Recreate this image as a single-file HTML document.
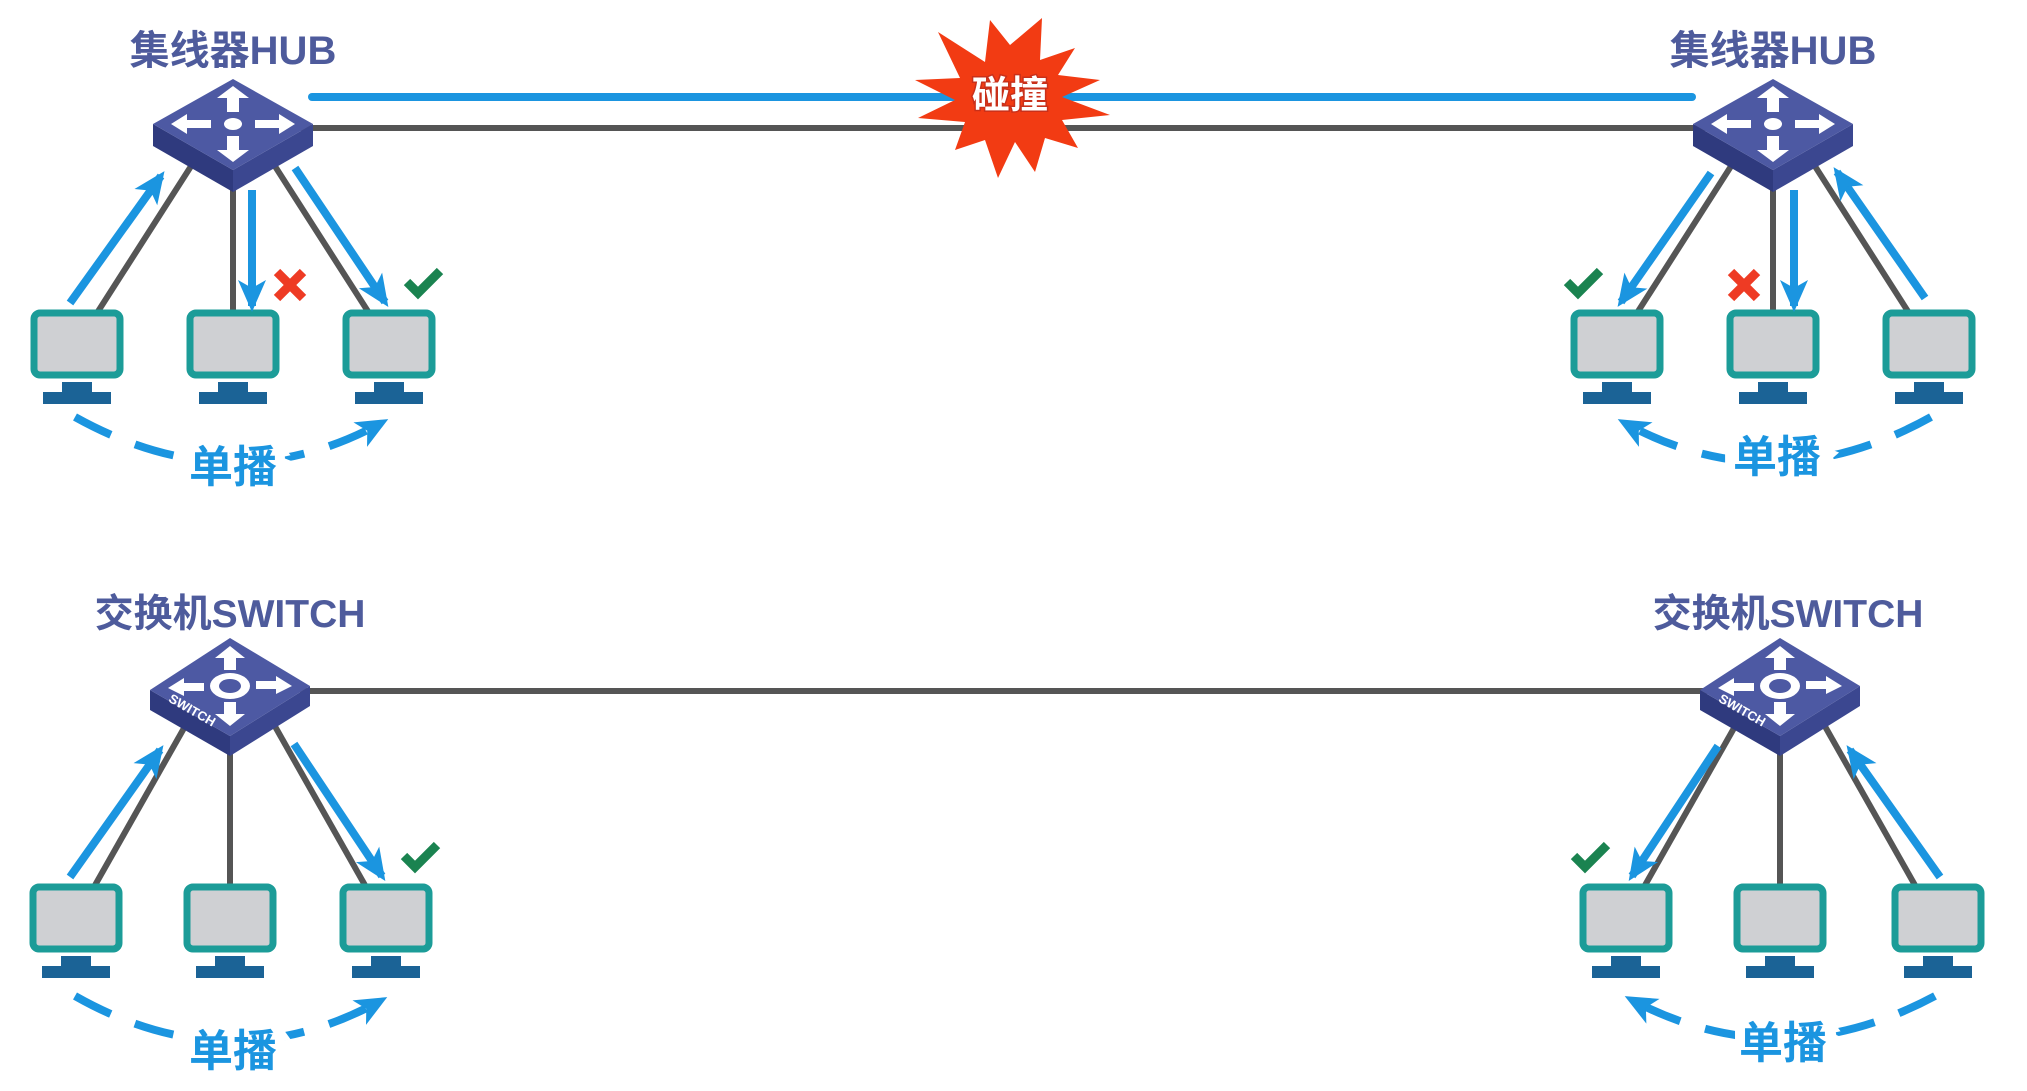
<!DOCTYPE html>
<html><head><meta charset="utf-8"><style>
html,body{margin:0;padding:0;background:#fff;}
svg{display:block;}
text{font-family:"Liberation Sans","Noto Sans CJK SC",sans-serif;font-weight:bold;}
</style></head><body>
<svg width="2027" height="1091" viewBox="0 0 2027 1091" xmlns="http://www.w3.org/2000/svg">
<defs>
  <marker id="ah" markerUnits="userSpaceOnUse" markerWidth="34" markerHeight="34" viewBox="0 0 34 34" refX="26" refY="17" orient="auto">
    <path d="M0,3 L32,17 L0,31 L8,17 Z" fill="#1b95e0"/>
  </marker>
  <g id="pc">
    <rect x="-43" y="3" width="86" height="62" rx="6" fill="#cfd0d3" stroke="#1c9c98" stroke-width="7"/>
    <rect x="-15" y="72" width="30" height="11" fill="#1b6396"/>
    <rect x="-34" y="82" width="68" height="12" fill="#1b6396"/>
  </g>
  <g id="hub">
    <polygon points="-80,0 0,46 0,68 -80,22" fill="#2f3a7e"/>
    <polygon points="80,0 0,46 0,68 80,22" fill="#3b4790"/>
    <polygon points="0,-45 80,0 0,46 -80,0" fill="#4d59a3"/>
    <g fill="#fff">
      <polygon points="0,-38 -16,-26 -6,-26 -6,-12 6,-12 6,-26 16,-26"/>
      <polygon points="0,38 -16,26 -6,26 -6,12 6,12 6,26 16,26"/>
      <polygon points="-62,0 -46,-10 -46,-4 -22,-4 -22,4 -46,4 -46,10"/>
      <polygon points="62,0 46,-10 46,-4 22,-4 22,4 46,4 46,10"/>
      <ellipse cx="0" cy="0" rx="9" ry="6"/>
    </g>
  </g>
  <g id="sw">
    <polygon points="-80,4 0,50 0,70 -80,24" fill="#2f3a7e"/>
    <polygon points="80,0 0,50 0,70 80,20" fill="#3b4790"/>
    <polygon points="0,-48 80,0 0,50 -80,4" fill="#4d59a3"/>
    <g fill="#fff">
      <polygon points="0,-40 -15,-28 -6,-28 -6,-16 6,-16 6,-28 15,-28"/>
      <polygon points="0,40 -15,28 -6,28 -6,16 6,16 6,28 15,28"/>
      <polygon points="-62,2 -46,-8 -46,-3 -26,-3 -26,5 -46,5 -46,10"/>
      <polygon points="62,0 46,-10 46,-5 26,-5 26,3 46,3 46,8"/>
      <ellipse cx="0" cy="0" rx="20" ry="13"/>
    </g>
    <ellipse cx="0" cy="0" rx="11" ry="7" fill="#4d59a3"/>
    <text x="0" y="0" font-size="13" fill="#fff" transform="translate(-40,28) rotate(30)" text-anchor="middle">SWITCH</text>
  </g>
  <path id="chk" d="M-16,0 L-5,11 L17,-11" fill="none" stroke="#1a8350" stroke-width="9"/>
  <g id="xx" stroke="#ee3b24" stroke-width="9"><path d="M-13,-13 L13,13 M13,-13 L-13,13"/></g>
</defs>

<line x1="312" y1="97" x2="1692" y2="97" stroke="#1b95e0" stroke-width="8" stroke-linecap="round"/>
<line x1="300" y1="128" x2="1720" y2="128" stroke="#555" stroke-width="6"/>
<line x1="300" y1="691" x2="1730" y2="691" stroke="#555" stroke-width="6"/>

<polygon fill="#f23b13" points="1010,45 1042,18 1040,60 1075,48 1058,75 1100,80 1062,97 1110,115 1062,120 1078,148 1045,138 1035,172 1015,142 998,178 985,140 955,150 965,122 918,118 955,100 915,80 960,78 938,32 985,62 990,20"/>
<text x="1010" y="108" font-size="38" text-anchor="middle" fill="#fff" stroke="#c9301a" stroke-width="3" paint-order="stroke">碰撞</text>

<!-- TOP LEFT -->
<g transform="translate(233,0)">
  <text x="0" y="64" font-size="40" fill="#4e5b9c" text-anchor="middle">集线器HUB</text>
  <g stroke="#555" stroke-width="6">
    <line x1="-38" y1="160" x2="-136" y2="313"/>
    <line x1="0" y1="180" x2="0" y2="313"/>
    <line x1="38" y1="160" x2="136" y2="313"/>
  </g>
  <use href="#hub" transform="translate(0,124)"/>
  <use href="#pc" transform="translate(-156,310)"/>
  <use href="#pc" transform="translate(0,310)"/>
  <use href="#pc" transform="translate(156,310)"/>
  <g stroke="#1b95e0" stroke-width="8" fill="none" marker-end="url(#ah)">
    <line x1="-163" y1="303" x2="-72" y2="176"/>
    <line x1="19" y1="190" x2="19" y2="306"/>
    <line x1="62" y1="168" x2="152" y2="302"/>
    <path d="M-158,417 Q0,505 150,422" stroke-dasharray="40 26"/>
  </g>
  <use href="#xx" transform="translate(57,285)"/>
  <use href="#chk" transform="translate(190,282)"/>
  <text x="0" y="482" font-size="44" fill="#1b95e0" text-anchor="middle" stroke="#fff" stroke-width="20" paint-order="stroke">单播</text>
</g>

<!-- TOP RIGHT -->
<g transform="translate(1773,0)">
  <text x="0" y="64" font-size="40" fill="#4e5b9c" text-anchor="middle">集线器HUB</text>
  <g stroke="#555" stroke-width="6">
    <line x1="-38" y1="160" x2="-136" y2="313"/>
    <line x1="0" y1="180" x2="0" y2="313"/>
    <line x1="38" y1="160" x2="136" y2="313"/>
  </g>
  <use href="#hub" transform="translate(0,124)"/>
  <use href="#pc" transform="translate(-156,310)"/>
  <use href="#pc" transform="translate(0,310)"/>
  <use href="#pc" transform="translate(156,310)"/>
  <g transform="scale(-1,1)" stroke="#1b95e0" stroke-width="8" fill="none" marker-end="url(#ah)">
    <line x1="-152" y1="298" x2="-64" y2="172"/>
    <line x1="62" y1="173" x2="152" y2="302"/>
    <path d="M-158,417 Q0,505 150,422" stroke-dasharray="40 26"/>
  </g>
  <line x1="21" y1="190" x2="21" y2="306" stroke="#1b95e0" stroke-width="8" marker-end="url(#ah)"/>
  <use href="#xx" transform="translate(-29,285)"/>
  <use href="#chk" transform="translate(-190,282)"/>
  <text x="4" y="472" font-size="44" fill="#1b95e0" text-anchor="middle" stroke="#fff" stroke-width="20" paint-order="stroke">单播</text>
</g>

<!-- BOTTOM LEFT -->
<g transform="translate(230,574)">
  <text x="0" y="53" font-size="39" fill="#4e5b9c" text-anchor="middle">交换机SWITCH</text>
  <g stroke="#555" stroke-width="6">
    <line x1="-38" y1="140" x2="-136" y2="313"/>
    <line x1="0" y1="170" x2="0" y2="313"/>
    <line x1="38" y1="140" x2="136" y2="313"/>
  </g>
  <use href="#sw" transform="translate(0,112)"/>
  <use href="#pc" transform="translate(-154,310)"/>
  <use href="#pc" transform="translate(0,310)"/>
  <use href="#pc" transform="translate(156,310)"/>
  <g stroke="#1b95e0" stroke-width="8" fill="none" marker-end="url(#ah)">
    <line x1="-160" y1="303" x2="-70" y2="176"/>
    <line x1="64" y1="170" x2="152" y2="302"/>
    <path d="M-155,422 Q0,510 152,426" stroke-dasharray="40 26"/>
  </g>
  <use href="#chk" transform="translate(190,282)"/>
  <text x="3" y="492" font-size="44" fill="#1b95e0" text-anchor="middle" stroke="#fff" stroke-width="20" paint-order="stroke">单播</text>
</g>

<!-- BOTTOM RIGHT -->
<g transform="translate(1780,574)">
  <text x="8" y="53" font-size="39" fill="#4e5b9c" text-anchor="middle">交换机SWITCH</text>
  <g stroke="#555" stroke-width="6">
    <line x1="-38" y1="140" x2="-136" y2="313"/>
    <line x1="0" y1="170" x2="0" y2="313"/>
    <line x1="38" y1="140" x2="136" y2="313"/>
  </g>
  <use href="#sw" transform="translate(0,112)"/>
  <use href="#pc" transform="translate(-154,310)"/>
  <use href="#pc" transform="translate(0,310)"/>
  <use href="#pc" transform="translate(158,310)"/>
  <g transform="scale(-1,1)" stroke="#1b95e0" stroke-width="8" fill="none" marker-end="url(#ah)">
    <line x1="-160" y1="303" x2="-70" y2="176"/>
    <line x1="62" y1="172" x2="148" y2="302"/>
    <path d="M-155,422 Q0,505 150,425" stroke-dasharray="40 26"/>
  </g>
  <use href="#chk" transform="translate(-190,282)"/>
  <text x="3" y="484" font-size="44" fill="#1b95e0" text-anchor="middle" stroke="#fff" stroke-width="20" paint-order="stroke">单播</text>
</g>
</svg>
</body></html>
